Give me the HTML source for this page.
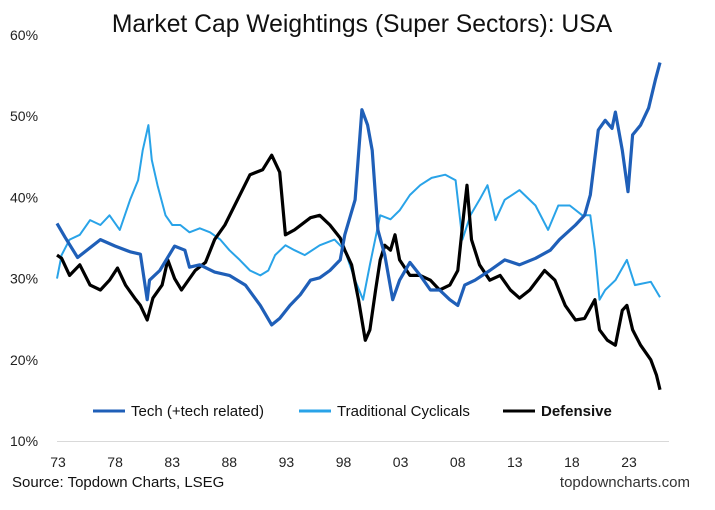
<!DOCTYPE html>
<html><head><meta charset="utf-8"><style>
body{margin:0;background:#fff;font-family:"Liberation Sans",Arial,sans-serif}
svg text{font-family:"Liberation Sans",Arial,sans-serif}
</style></head><body>
<svg id="chart" width="715" height="505" viewBox="0 0 715 505" xmlns="http://www.w3.org/2000/svg">
<rect width="715" height="505" fill="#fff"/>
<text x="362" y="32" font-size="24.7" text-anchor="middle" fill="#111">Market Cap Weightings (Super Sectors): USA</text>
<g id="yaxis"></g>
<g id="xaxis"></g>
<line x1="57" y1="441.5" x2="669" y2="441.5" stroke="#d9d9d9" stroke-width="1"/>
<g id="series"></g>
<g>
<g><line x1="93" y1="411" x2="125" y2="411" stroke="#1f5fb8" stroke-width="3"/><text x="131" y="416" font-size="15" fill="#111">Tech (+tech related)</text></g>
<g><line x1="299" y1="411" x2="331" y2="411" stroke="#29a3e8" stroke-width="3"/><text x="337" y="416" font-size="15" fill="#111">Traditional Cyclicals</text></g>
<g><line x1="503" y1="411" x2="535" y2="411" stroke="#000" stroke-width="3"/><text x="541" y="416" font-size="15" font-weight="bold" fill="#111">Defensive</text></g>
</g>
<text x="12" y="487" font-size="15" fill="#111">Source: Topdown Charts, LSEG</text>
<text x="690" y="487" font-size="15" text-anchor="end" fill="#333">topdowncharts.com</text>
</svg>
<script>
const yTicks=[10,20,30,40,50,60];
const yTickLabels=["10%","20%","30%","40%","50%","60%"];
const xTicks=[1973,1978,1983,1988,1993,1998,2003,2008,2013,2018,2023];
const xTickLabels=["73","78","83","88","93","98","03","08","13","18","23"];
const techYears=[1973.0,1973.7,1974.8,1976.8,1978.1,1979.4,1980.3,1980.9,1981.1,1982.0,1983.3,1984.2,1984.6,1985.5,1986.8,1988.1,1989.5,1990.8,1991.8,1992.5,1993.4,1994.3,1995.2,1996.0,1996.9,1997.8,1998.2,1999.1,1999.7,2000.2,2000.6,2001.1,2001.7,2002.4,2003.0,2003.9,2004.8,2005.7,2006.5,2007.4,2008.1,2008.7,2009.6,2010.9,2012.2,2013.5,2014.9,2016.2,2017.0,2018.4,2019.2,2019.7,2020.4,2021.0,2021.6,2021.9,2022.5,2023.0,2023.4,2024.1,2024.8,2025.4,2025.8];
const techValues=[36.8,35.1,32.6,34.8,34.0,33.3,33.0,27.4,29.8,31.0,34.0,33.5,31.4,31.7,30.8,30.4,29.2,26.7,24.3,25.1,26.7,28.0,29.8,30.1,31.0,32.3,35.4,39.7,50.8,48.9,45.8,36.0,32.9,27.4,29.8,32.0,30.4,28.6,28.6,27.4,26.7,29.2,29.8,31.0,32.3,31.7,32.5,33.5,34.8,36.6,37.8,40.3,48.3,49.5,48.5,50.5,45.8,40.7,47.7,48.9,51.0,54.5,56.6];
const cycYears=[1973.0,1973.4,1974.1,1975.0,1975.9,1976.8,1977.6,1978.5,1979.4,1980.1,1980.5,1981.0,1981.3,1981.8,1982.5,1983.1,1983.8,1984.6,1985.5,1986.4,1987.3,1988.1,1989.0,1989.9,1990.8,1991.5,1992.1,1993.0,1993.8,1994.7,1996.0,1997.3,1998.2,1999.1,1999.8,2000.4,2001.3,2002.2,2003.0,2003.9,2004.8,2005.8,2007.0,2007.9,2008.5,2009.2,2010.0,2010.7,2011.4,2012.2,2013.5,2014.9,2016.0,2016.9,2017.9,2019.0,2019.7,2020.1,2020.5,2021.0,2021.9,2022.9,2023.6,2025.0,2025.8];
const cycValues=[30.0,32.9,34.8,35.4,37.2,36.6,37.8,36.0,39.7,42.1,45.8,48.9,44.6,41.5,37.8,36.6,36.6,35.7,36.2,35.7,34.8,33.5,32.3,31.0,30.4,31.0,32.9,34.1,33.5,32.9,34.1,34.8,33.5,29.8,27.4,31.7,37.8,37.3,38.4,40.3,41.5,42.4,42.8,42.1,34.8,37.8,39.7,41.5,37.2,39.7,40.9,39.0,36.0,39.0,39.0,37.8,37.8,33.5,27.4,28.6,29.8,32.3,29.2,29.6,27.7];
const defYears=[1973.0,1973.4,1974.1,1975.0,1975.9,1976.8,1977.6,1978.3,1979.0,1979.8,1980.3,1980.9,1981.4,1982.2,1982.7,1983.3,1983.9,1985.1,1986.0,1986.8,1987.7,1989.9,1991.0,1991.8,1992.5,1993.0,1993.8,1995.2,1996.0,1996.9,1997.8,1998.2,1998.8,1999.4,2000.0,2000.4,2000.9,2001.3,2001.7,2002.2,2002.6,2003.0,2003.9,2004.8,2005.7,2006.5,2007.4,2008.1,2008.6,2008.9,2009.3,2010.0,2010.9,2011.8,2012.7,2013.5,2014.4,2015.7,2016.6,2017.5,2018.4,2019.2,2020.1,2020.5,2021.2,2021.9,2022.5,2022.9,2023.4,2024.1,2025.0,2025.5,2025.8];
const defValues=[32.9,32.5,30.4,31.7,29.2,28.6,29.8,31.3,29.2,27.6,26.7,24.9,27.6,29.2,32.3,30.0,28.6,31.0,32.0,34.8,36.6,42.8,43.4,45.2,43.1,35.4,36.0,37.5,37.8,36.6,35.0,33.5,31.7,27.4,22.4,23.7,28.6,32.3,34.1,33.5,35.4,32.3,30.4,30.4,29.8,28.6,29.2,31.0,37.8,41.5,34.8,31.7,29.8,30.4,28.6,27.6,28.6,31.0,29.8,26.7,24.9,25.1,27.4,23.7,22.4,21.8,26.1,26.7,23.7,21.8,20.0,18.1,16.3];

const NS='http://www.w3.org/2000/svg';
function xs(yr){return 57+(yr-1973)*11.42;}
function ys(v){return 441-(v-10)*8.12;}
const yaxis=document.getElementById('yaxis');
yTicks.forEach((t,i)=>{
  const tx=document.createElementNS(NS,'text');
  
  
  tx.setAttribute('x',10);tx.setAttribute('y',ys(t)+5);
  tx.setAttribute('font-size','14');tx.setAttribute('fill','#222');
  tx.textContent=yTickLabels[i];yaxis.appendChild(tx);
});
const xaxis=document.getElementById('xaxis');
xTicks.forEach((t,i)=>{
  const tx=document.createElementNS(NS,'text');
  
  
  tx.setAttribute('x',xs(t)+1);tx.setAttribute('y',467);
  tx.setAttribute('font-size','14');tx.setAttribute('text-anchor','middle');tx.setAttribute('fill','#222');
  tx.textContent=xTickLabels[i];xaxis.appendChild(tx);
});
const g=document.getElementById('series');
function drawLine(years,vals,color,w,name){
  const p=document.createElementNS(NS,'path');
  
  
  p.setAttribute('d',years.map((y,i)=>(i?'L':'M')+xs(y).toFixed(1)+','+ys(vals[i]).toFixed(1)).join(''));
  p.setAttribute('fill','none');p.setAttribute('stroke',color);p.setAttribute('stroke-width',w);
  p.setAttribute('stroke-linejoin','round');
  g.appendChild(p);
}
drawLine(cycYears,cycValues,'#29a3e8',2,'cyclicals-line');
drawLine(defYears,defValues,'#000',3.2,'defensive-line');
drawLine(techYears,techValues,'#1f5fb8',3.2,'tech-line');
</script>
</body></html>
